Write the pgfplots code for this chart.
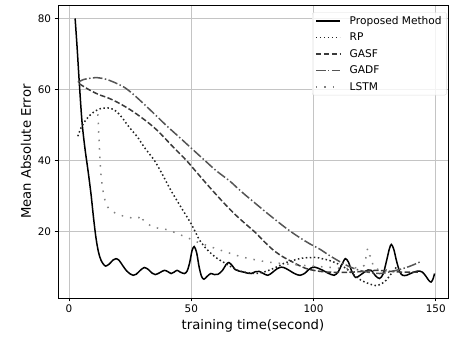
\documentclass[border=0pt]{standalone}
\usepackage{fontspec}
\setmainfont{DejaVu Sans}
\usepackage{pgfplots}
\pgfplotsset{compat=1.18}
\usetikzlibrary{calc}
\definecolor{gridc}{HTML}{C4C4C4}
\definecolor{cRP}{HTML}{222222}
\definecolor{cGASF}{HTML}{3A3A3A}
\definecolor{cGADF}{HTML}{555555}
\definecolor{cLSTM}{HTML}{808080}
\begin{document}
\begin{tikzpicture}
\begin{axis}[
  scale only axis, width=390bp, height=293bp,
  xmin=-4.5, xmax=155, ymin=1.2, ymax=83.8,
  xtick={0,50,100,150}, ytick={20,40,60,80},
  grid=major, grid style={gridc, line width=0.8bp},
  axis line style={line width=0.8bp},
  tick style={black, line width=0.8bp}, tick align=outside, major tick length=3.4bp,
  tick pos=left,
  ticklabel style={font=\fontsize{10.4bp}{12bp}\selectfont},
  /pgf/number format/assume math mode=true,
  xlabel={training time(second)}, ylabel={Mean Absolute Error},
  label style={font=\fontsize{13.2bp}{15bp}\selectfont},
  legend cell align=left,
  legend style={at={(rel axis cs:0.997,0.975)}, anchor=north east,
    font=\fontsize{10.6bp}{12bp}\selectfont, row sep=3.2bp,
    /tikz/every odd column/.append style={column sep=7bp},
    inner xsep=3bp, inner ysep=1.5bp, draw=gray!25, rounded corners=2bp,
    fill=white, fill opacity=0.8, text opacity=1},
  legend image code/.code={\draw[#1] (0bp,0bp) -- (24bp,0bp);},
]
\addplot[black, line width=1.5bp, smooth] coordinates {
(2.5,80)(3.3,72)(4.2,62)(5.3,51)(6.5,43.5)(7.8,37)(9,30.5)(10,24)(11,18.3)(12,14.3)(13,12)(14,10.8)(15,10.2)(16.5,10.8)(18,11.9)(19.2,12.3)(20.5,11.8)(22,10.3)(23.5,8.9)(25,8)(26.2,7.6)(27.5,7.9)(29,8.9)(30.8,9.8)(32.5,9.2)(34,8.2)(35.3,7.8)(37,8.3)(39,9.0)(40.5,8.6)(41.8,8.1)(43,8.5)(44.2,9.0)(45.5,8.5)(47.2,8.1)(48.3,8.8)(49.3,11)(50.3,14.5)(51.2,15.7)(52.2,14)(53.2,10)(54.2,7.3)(55.2,6.5)(56.5,7.3)(58,8.1)(59.5,7.8)(61,7.9)(62.8,9.0)(64.2,10.6)(65.4,11.2)(66.8,10.3)(68,9.2)(69.5,8.8)(71.5,8.5)(73,8.2)(74.5,8.1)(76.2,8.6)(77.8,8.7)(79.5,8.1)(81.3,7.6)(83,8.3)(85,9.4)(86.8,9.9)(88.5,9.6)(90.5,8.8)(92.5,8.0)(94.5,7.6)(96.5,8.2)(98,9.2)(99.8,9.9)(101.5,9.7)(103.8,9.0)(106,8.2)(108.4,7.6)(110,8.5)(111.5,10.5)(113,12.3)(114.3,11.3)(115.6,8.8)(117.2,7.0)(119,7.6)(120.8,8.5)(122.3,9.1)(123.6,9.0)(125.3,7.5)(127,6.7)(128.5,8)(129.8,11.5)(131,15)(131.8,16.3)(132.8,15)(134,11.5)(135.3,8.5)(136.5,7.6)(138,7.6)(140,8.2)(142.6,8.8)(144.5,8.5)(146,7.3)(147.2,6.1)(148.1,5.7)(148.9,6.6)(149.5,8.1)
};
\addlegendentry{Proposed Method}
\addplot[cRP, line width=1.5bp, smooth, dash pattern=on 1.5bp off 2.5bp] coordinates {
(3.6,46.8)(5,49.3)(7,51.5)(9,53)(11,54)(13,54.6)(15.8,54.8)(18,54.4)(20,53.4)(22,51.8)(24,49.9)(26,48.2)(28,46.6)(31,43.5)(34.9,40)(38,36.3)(41.7,31.5)(45.8,26.8)(49.9,22.2)(51.9,19.5)(53.4,17.5)(56,15.2)(58.2,13.7)(60.5,12.4)(62.9,11.4)(66,10.1)(69,9.0)(72.5,8.4)(76.6,8.1)(80.5,8.7)(84.8,9.9)(88,11)(91.6,11.8)(95,12.4)(98.4,12.6)(101.5,12.6)(104,12.2)(106.5,11.8)(110,10.8)(113.4,9.5)(116,8.0)(119,6.4)(122,5.4)(125.6,4.7)(128,5.3)(129.7,6.2)(131.5,7.8)(133.1,9.2)(134,10)
};
\addlegendentry{RP}
\addplot[cGASF, line width=1.5bp, smooth, dash pattern=on 5.5bp off 2.4bp] coordinates {
(4.2,61.6)(8,60)(12,58.6)(16,57.6)(20,56.3)(25,54.3)(29.4,52.2)(33,50.3)(36,48.5)(39,46.4)(42,44.2)(45,42.1)(48,40)(52,36.8)(56,33.6)(60,30.5)(64,27.5)(68,24.7)(72,22.2)(76,19.8)(80,17)(83.4,14.8)(87,13)(90.2,11.8)(94,10.4)(97,9.5)(100,9)(104,8.6)(110,8.4)(116,8.5)(122,8.8)(126,9)(130,8.8)(136,8.5)(143,8.5)
};
\addlegendentry{GASF}
\addplot[cGADF, line width=1.5bp, smooth, dash pattern=on 9.6bp off 2.4bp on 1.5bp off 2.4bp] coordinates {
(3.6,62)(6,62.8)(9,63.2)(11.7,63.3)(15,62.9)(18.5,62)(22.6,60.6)(26,58.8)(30,56.3)(34.9,53.1)(40,49.7)(45,46.6)(50.7,43)(55.5,40)(60,37.2)(65.7,34.2)(68.4,32.5)(72,30.3)(76,28)(80,25.7)(83.4,23.8)(88,21.3)(92,19.3)(96,17.5)(98.4,16.5)(102.5,15.0)(106.5,13.2)(110.6,11.5)(114.5,10.1)(118.8,9.0)(123,8.4)(127,8.1)(130,8.4)(133.8,9.0)(138,9.8)(141,10.6)(144,11.5)
};
\addlegendentry{GADF}
\addplot[cLSTM, line width=1.5bp, smooth, dash pattern=on 1.5bp off 7bp] coordinates {
(11.8,53)(12.2,47)(12.5,42.8)(12.9,38)(13.2,35)(14,31)(15.1,27.8)(16.2,26.5)(17.5,25.7)(20.3,24.7)(24,24)(27.4,23.6)(28.5,23.8)(29.4,24.6)(30.2,23.3)(31.5,22.6)(34.2,21.2)(37.6,20.8)(41,20.3)(44.4,19.3)(47.8,18.4)(52,17.1)(56.1,16.1)(61,14.9)(66.4,13.7)(70,12.9)(73.8,12.3)(80.7,11.4)(87.5,10.9)(95.6,10.4)(100,10.2)(105.2,9.9)(109,9.7)(113.4,9.5)(117,9.7)(120.8,10.4)(121.5,13.2)(122.2,15.1)(122.9,13.2)(123.6,12.8)(124.3,10.5)(125,9.5)(128,9.2)(132,9)
};
\addlegendentry{LSTM}
\end{axis}
\pgfresetboundingbox
\path[use as bounding box] ($(current axis.south west)+(-58bp,-42bp)$) rectangle ($(current axis.north east)+(2bp,5bp)$);
\end{tikzpicture}
\end{document}
